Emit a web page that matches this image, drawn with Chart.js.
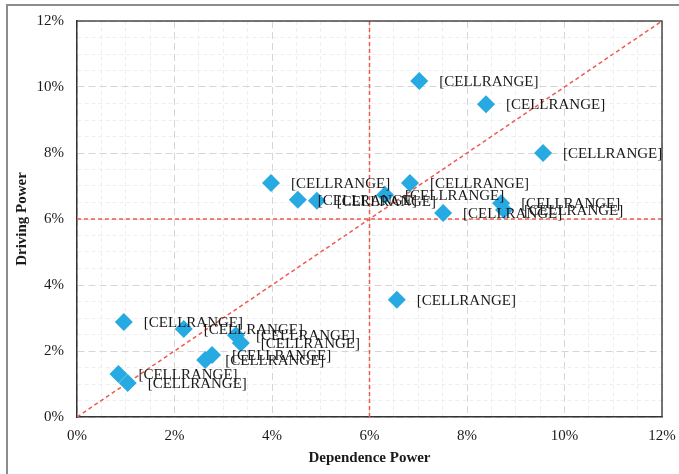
<!DOCTYPE html>
<html>
<head>
<meta charset="utf-8">
<script src="https://cdn.jsdelivr.net/npm/chart.js@4.4.1/dist/chart.umd.min.js"></script>
<style>
    html, body { margin: 0; padding: 0; background: #fff; }
    #wrap { position: relative; width: 679px; height: 474px; overflow: hidden; }
    #frame {
        position: absolute; left: 6px; top: 4px; width: 700px; height: 500px;
        border-left: 2px solid #8c8c8c; border-top: 2px solid #8c8c8c;
        pointer-events: none;
    }
    canvas { position: absolute; left: 0; top: 0; }
</style>
</head>
<body>
<div id="wrap">
    <canvas id="chart" width="679" height="474"></canvas>
    <div id="frame"></div>
</div>
<script>
    // values in percent
    var dependence = [7.02, 8.39, 9.56, 3.98, 4.53, 4.92, 6.32, 6.83, 7.51, 8.70,
                      8.76, 6.56, 0.96, 2.19, 3.26, 3.36, 2.63, 2.77, 0.85, 1.04];
    var driving = [10.18, 9.48, 8.00, 7.09, 6.58, 6.55, 6.73, 7.09, 6.18, 6.48,
                   6.27, 3.55, 2.88, 2.67, 2.48, 2.24, 1.73, 1.88, 1.30, 1.03];
    var pointLabel = '[CELLRANGE]';

    // red dashed reference lines
    var diagonalLine = [[0, 0], [12, 12]];
    var meanDependence = [[6, 0], [6, 12]];
    var meanDriving = [[0, 6], [12, 6]];

    var axisMin = 0;
    var axisMax = 12;
    var majorStep = 2;
    var minorStep = 0.5;

    var RED = '#ef5a4e';
    var BLUE = '#27a9e1';
    var SERIF = '"Liberation Serif", "DejaVu Serif", serif';

    function toPoints(pairs) {
        return pairs.map(function (p) { return {x: p[0], y: p[1]}; });
    }

    var points = dependence.map(function (x, i) { return {x: x, y: driving[i]}; });

    function refLine(pairs) {
        return {
            type: 'line',
            data: toPoints(pairs),
            showLine: true,
            borderColor: RED,
            borderWidth: 1.5,
            borderDash: [4, 3],
            pointRadius: 0,
            fill: false,
            order: 2
        };
    }

    // labels to the right of each diamond
    var labelPlugin = {
        id: 'pointLabels',
        afterDatasetsDraw: function (chart) {
            var ctx = chart.ctx;
            var meta = chart.getDatasetMeta(0);
            ctx.save();
            ctx.font = '15px ' + SERIF;
            ctx.fillStyle = '#1a1a1a';
            ctx.textAlign = 'left';
            ctx.textBaseline = 'middle';
            meta.data.forEach(function (el) {
                ctx.fillText(pointLabel, el.x + 20, el.y + 1);
            });
            ctx.restore();
        }
    };

    // closes the plot box on the top and right
    var boxPlugin = {
        id: 'plotBox',
        afterDraw: function (chart) {
            var a = chart.chartArea;
            var ctx = chart.ctx;
            ctx.save();
            ctx.strokeStyle = '#4a4a4a';
            ctx.lineWidth = 1.5;
            ctx.beginPath();
            ctx.moveTo(a.left, a.top);
            ctx.lineTo(a.right, a.top);
            ctx.lineTo(a.right, a.bottom);
            ctx.stroke();
            ctx.restore();
        }
    };

    function isMajor(v) {
        return Math.abs(v / majorStep - Math.round(v / majorStep)) < 1e-6;
    }

    function axis(titleText, titlePadding, tickPadding, fitFn) {
        return {
            min: axisMin,
            max: axisMax,
            afterFit: fitFn,
            ticks: {
                stepSize: minorStep,
                autoSkip: false,
                maxRotation: 0,
                padding: tickPadding,
                color: '#1a1a1a',
                font: {family: SERIF, size: 15},
                callback: function (v) { return isMajor(v) ? v + '%' : ''; }
            },
            grid: {
                drawTicks: false,
                lineWidth: 1,
                color: function (c) {
                    return isMajor(c.tick.value) ? '#d6d6d6' : '#eeeeee';
                }
            },
            border: {
                color: '#333333',
                width: 1.5,
                dash: function (c) {
                    return c.tick && isMajor(c.tick.value) ? [7, 4] : [4, 3];
                }
            },
            title: {
                display: true,
                text: titleText,
                color: '#1a1a1a',
                padding: titlePadding,
                font: {family: SERIF, size: 15, weight: 'bold'}
            }
        };
    }

    new Chart(document.getElementById('chart').getContext('2d'), {
        type: 'scatter',
        data: {
            datasets: [
                {
                    data: points,
                    pointStyle: 'rectRot',
                    pointRadius: 9,
                    pointHoverRadius: 9,
                    backgroundColor: BLUE,
                    borderColor: BLUE,
                    borderWidth: 0,
                    order: 1
                },
                refLine(diagonalLine),
                refLine(meanDependence),
                refLine(meanDriving)
            ]
        },
        options: {
            responsive: false,
            animation: false,
            layout: {padding: {top: 21, right: 17, left: 0, bottom: 0}},
            plugins: {
                legend: {display: false},
                tooltip: {enabled: false}
            },
            scales: {
                x: axis('Dependence Power', {top: 0, bottom: 7}, 10,
                        function (s) { s.height = 57; s.paddingLeft = 0; s.paddingRight = 0; }),
                y: axis('Driving Power', {top: 13, bottom: 0}, 13,
                        function (s) { s.width = 77; s.paddingTop = 0; s.paddingBottom = 0; })
            }
        },
        plugins: [labelPlugin, boxPlugin]
    });
</script>
</body>
</html>
